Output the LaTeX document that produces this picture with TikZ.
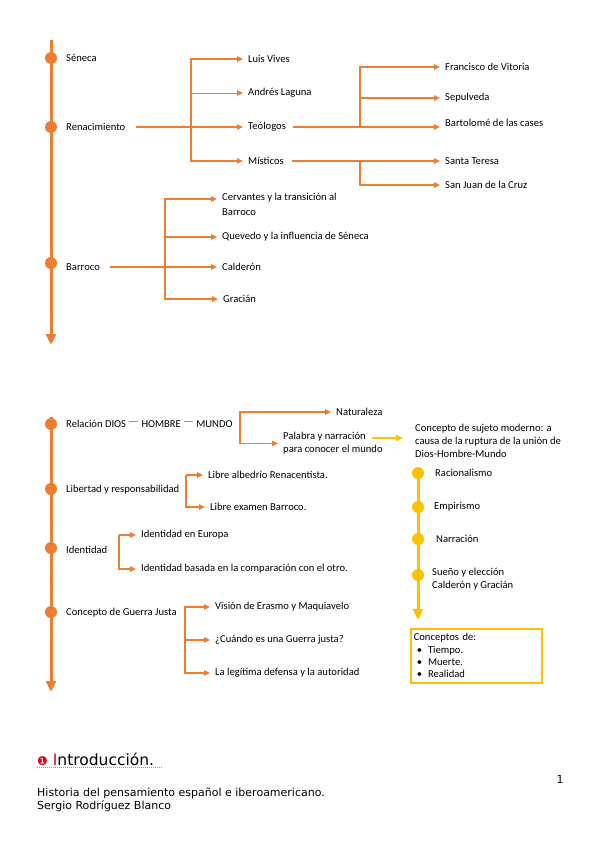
\documentclass[tikz,border=0pt]{standalone}
\usepackage{fontspec}
\setmainfont{Carlito}
\newfontfamily\dejavu{DejaVu Sans}
\usetikzlibrary{arrows,arrows.meta}
\definecolor{naranja}{HTML}{ED7D31}
\definecolor{amarillo}{HTML}{FFC000}
\definecolor{rojo}{HTML}{E2001A}

\begin{document}
\begin{tikzpicture}[x=1pt,y=-1pt,
	lbl/.style={anchor=west,inner sep=3pt,align=left,font=\fontsize{10.6}{13}\selectfont},
	eje/.style={draw=naranja,line width=3pt,-{Triangle[length=11pt,width=10pt]}},
	yeje/.style={draw=amarillo,line width=3pt,-{Triangle[length=11pt,width=10pt]}},
	tdot/.style={circle,fill=naranja,inner sep=0pt,minimum size=12pt},
	ydot/.style={circle,fill=amarillo,inner sep=0pt,minimum size=12pt},
	arr/.style={draw=naranja,line width=1.6pt,shorten >=2pt,-{Triangle[length=6pt,width=5.5pt]}},
	yarr/.style={draw=amarillo,line width=2pt,-{Triangle[length=7pt,width=6pt]}}]
	\useasboundingbox (0,0) rectangle (599,848);
	\coordinate (e1a) at (51,40);
	\coordinate (e1b) at (51,345);
	\draw[eje] (e1a) -- (e1b);
	\node[tdot] (d1) at (51,58) {};
	\node[tdot] (d2) at (51,127) {};
	\node[tdot] (d3) at (51,263) {};
	\node[lbl] (seneca) at (63,58) {Séneca};
	\node[lbl] (ren) at (63,127) {Renacimiento};
	\node[lbl] (barroco) at (63,267) {Barroco};
	\node[lbl] (vives) at (245,59) {Luis Vives};
	\node[lbl] (laguna) at (245,93) {Andrés Laguna};
	\node[lbl] (teo) at (245,127) {Teólogos};
	\node[lbl] (mist) at (245,161) {Místicos};
	\node[lbl] (vitoria) at (442,67) {Francisco de Vitoria};
	\node[lbl] (sepul) at (442,98) {Sepulveda};
	\node[lbl] (casas) at (442,123) {Bartolomé de las cases};
	\node[lbl] (teresa) at (442,161) {Santa Teresa};
	\node[lbl] (cruz) at (442,185) {San Juan de la Cruz};
	\node[lbl,font=\fontsize{10.6}{14.5}\selectfont] (cerv) at (219,204.5) {Cervantes y la transición al\\Barroco};
	\node[lbl] (quev) at (219,237) {Quevedo y la influencia de Séneca};
	\node[lbl] (cald) at (219,267) {Calderón};
	\node[lbl] (grac) at (220,299) {Gracián};
	\coordinate (b1) at (191,127);
	\coordinate (b2) at (360,127);
	\coordinate (b3) at (360,161);
	\coordinate (b4) at (165,267);
	\coordinate (cervp) at (219,199);
	\draw[arr] ([xshift=8pt]ren.east) -- (teo.west);
	\draw[arr] (b1) |- (vives.west);
	\draw[arr,line width=0.8pt] (b1) |- (laguna.west);
	\draw[arr] (b1) |- (mist.west);
	\draw[arr] ([xshift=4pt]teo.east) -- (teo.east -| casas.west);
	\draw[arr] (b2) |- (vitoria.west);
	\draw[arr] (b2) |- (sepul.west);
	\draw[arr] ([xshift=5pt]mist.east) -- (teresa.west);
	\draw[arr] (b3) |- (cruz.west);
	\draw[arr] ([xshift=7pt]barroco.east) -- (cald.west);
	\draw[arr] (b4) |- (cervp);
	\draw[arr] (b4) |- (quev.west);
	\draw[arr] (b4) |- (grac.west);
	\coordinate (e2a) at (51,417);
	\coordinate (e2b) at (51,692);
	\draw[eje] (e2a) -- (e2b);
	\node[tdot] (d4) at (51,424) {};
	\node[tdot] (d5) at (51,489) {};
	\node[tdot] (d6) at (51,548) {};
	\node[tdot] (d7) at (51,612) {};
	\node[lbl] (rel) at (63,424) {Relación DIOS};
	\node[lbl] (hombre) at ([xshift=9pt]rel.east) {HOMBRE};
	\node[lbl] (mundo) at ([xshift=9pt]hombre.east) {MUNDO};
	\draw[naranja,line width=0.8pt] ([yshift=3pt]rel.east) -- ([yshift=3pt]hombre.west);
	\draw[naranja,line width=0.8pt] ([yshift=3pt]hombre.east) -- ([yshift=3pt]mundo.west);
	\node[lbl] (natur) at (333,412) {Naturaleza};
	\node[lbl] (palabra) at (280,443.5) {Palabra y narración\\para conocer el mundo};
	\coordinate (b5) at (240,443.5);
	\draw[arr] (b5) |- (natur.west);
	\draw[arr] (b5) -- (palabra.west);
	\node[lbl] (sujeto) at (412,441) {Concepto de sujeto moderno: a\\causa de la ruptura de la unión de\\Dios-Hombre-Mundo};
	\coordinate (ys) at (372,438);
	\draw[yarr,shorten >=9pt] (ys) -- (ys -| sujeto.west);
	\coordinate (e3a) at (418,467);
	\coordinate (e3b) at (418,620);
	\draw[yeje] (e3a) -- (e3b);
	\node[ydot] (y1) at (418,473) {};
	\node[ydot] (y2) at (418,507) {};
	\node[ydot] (y3) at (418,539) {};
	\node[ydot] (y4) at (418,575) {};
	\node[lbl] (racio) at (432,473) {Racionalismo};
	\node[lbl] (empir) at (431,507) {Empirismo};
	\node[lbl] (narr) at (433,539) {Narración};
	\node[lbl] (sueno) at (429,579.5) {Sueño y elección\\Calderón y Gracián};
	\node[draw=amarillo,line width=1.5pt,anchor=north west,text width=125pt,minimum height=54pt,inner sep=3pt,align=left,font=\fontsize{10.6}{12.4}\selectfont] (conc) at (410,628) {Conceptos de:\\\hspace*{3pt}\textbullet\hspace{6pt}Tiempo.\\\hspace*{3pt}\textbullet\hspace{6pt}Muerte.\\\hspace*{3pt}\textbullet\hspace{6pt}Realidad};
	\node[lbl] (lib) at (63,490) {Libertad y responsabilidad};
	\node[lbl] (libre1) at (205,475) {Libre albedrío Renacentista.};
	\node[lbl] (libre2) at (207,507) {Libre examen Barroco.};
	\coordinate (b6) at (186,475);
	\draw[arr] (b6) -- (libre1.west);
	\draw[arr] (b6) |- (libre2.west);
	\node[lbl] (ident) at (63,550) {Identidad};
	\node[lbl] (ie1) at (138,535) {Identidad en Europa};
	\node[lbl] (ie2) at (138,569) {Identidad basada en la comparación con el otro.};
	\coordinate (b7) at (119,535);
	\draw[arr] (b7) -- (ie1.west);
	\draw[arr] (b7) |- (ie2.west);
	\node[lbl] (guerra) at (63,613) {Concepto de Guerra Justa};
	\node[lbl] (g1) at (212,607) {Visión de Erasmo y Maquiavelo};
	\node[lbl] (g2) at (212,640) {¿Cuándo es una Guerra justa?};
	\node[lbl] (g3) at (212,673) {La legítima defensa y la autoridad};
	\coordinate (b8) at (185,640);
	\draw[arr] (b8) -- (g2.west);
	\draw[arr] (b8) |- (g1.west);
	\draw[arr] (b8) |- (g3.west);
	\node[anchor=west,inner sep=2pt,font=\dejavu\fontsize{15.5}{16}\selectfont] (intro) at (35,759) {{\color{rojo}\fontsize{12}{12}\selectfont ❶} {\color{rojo}I}ntroducción.};
	\draw[naranja,line width=1.2pt,dash pattern=on 1pt off 1pt] ([xshift=2pt]intro.south west) -- ([xshift=6pt]intro.south east);
	\node[anchor=west,inner sep=2pt,align=left,font=\dejavu\fontsize{11}{13}\selectfont] (hist) at (35,799.5) {Historia del pensamiento español e iberoamericano.\\Sergio Rodríguez Blanco};
	\node[inner sep=0pt,font=\dejavu\fontsize{11}{13}\selectfont] (pag) at (560,779) {1};
\end{tikzpicture}
\end{document}
